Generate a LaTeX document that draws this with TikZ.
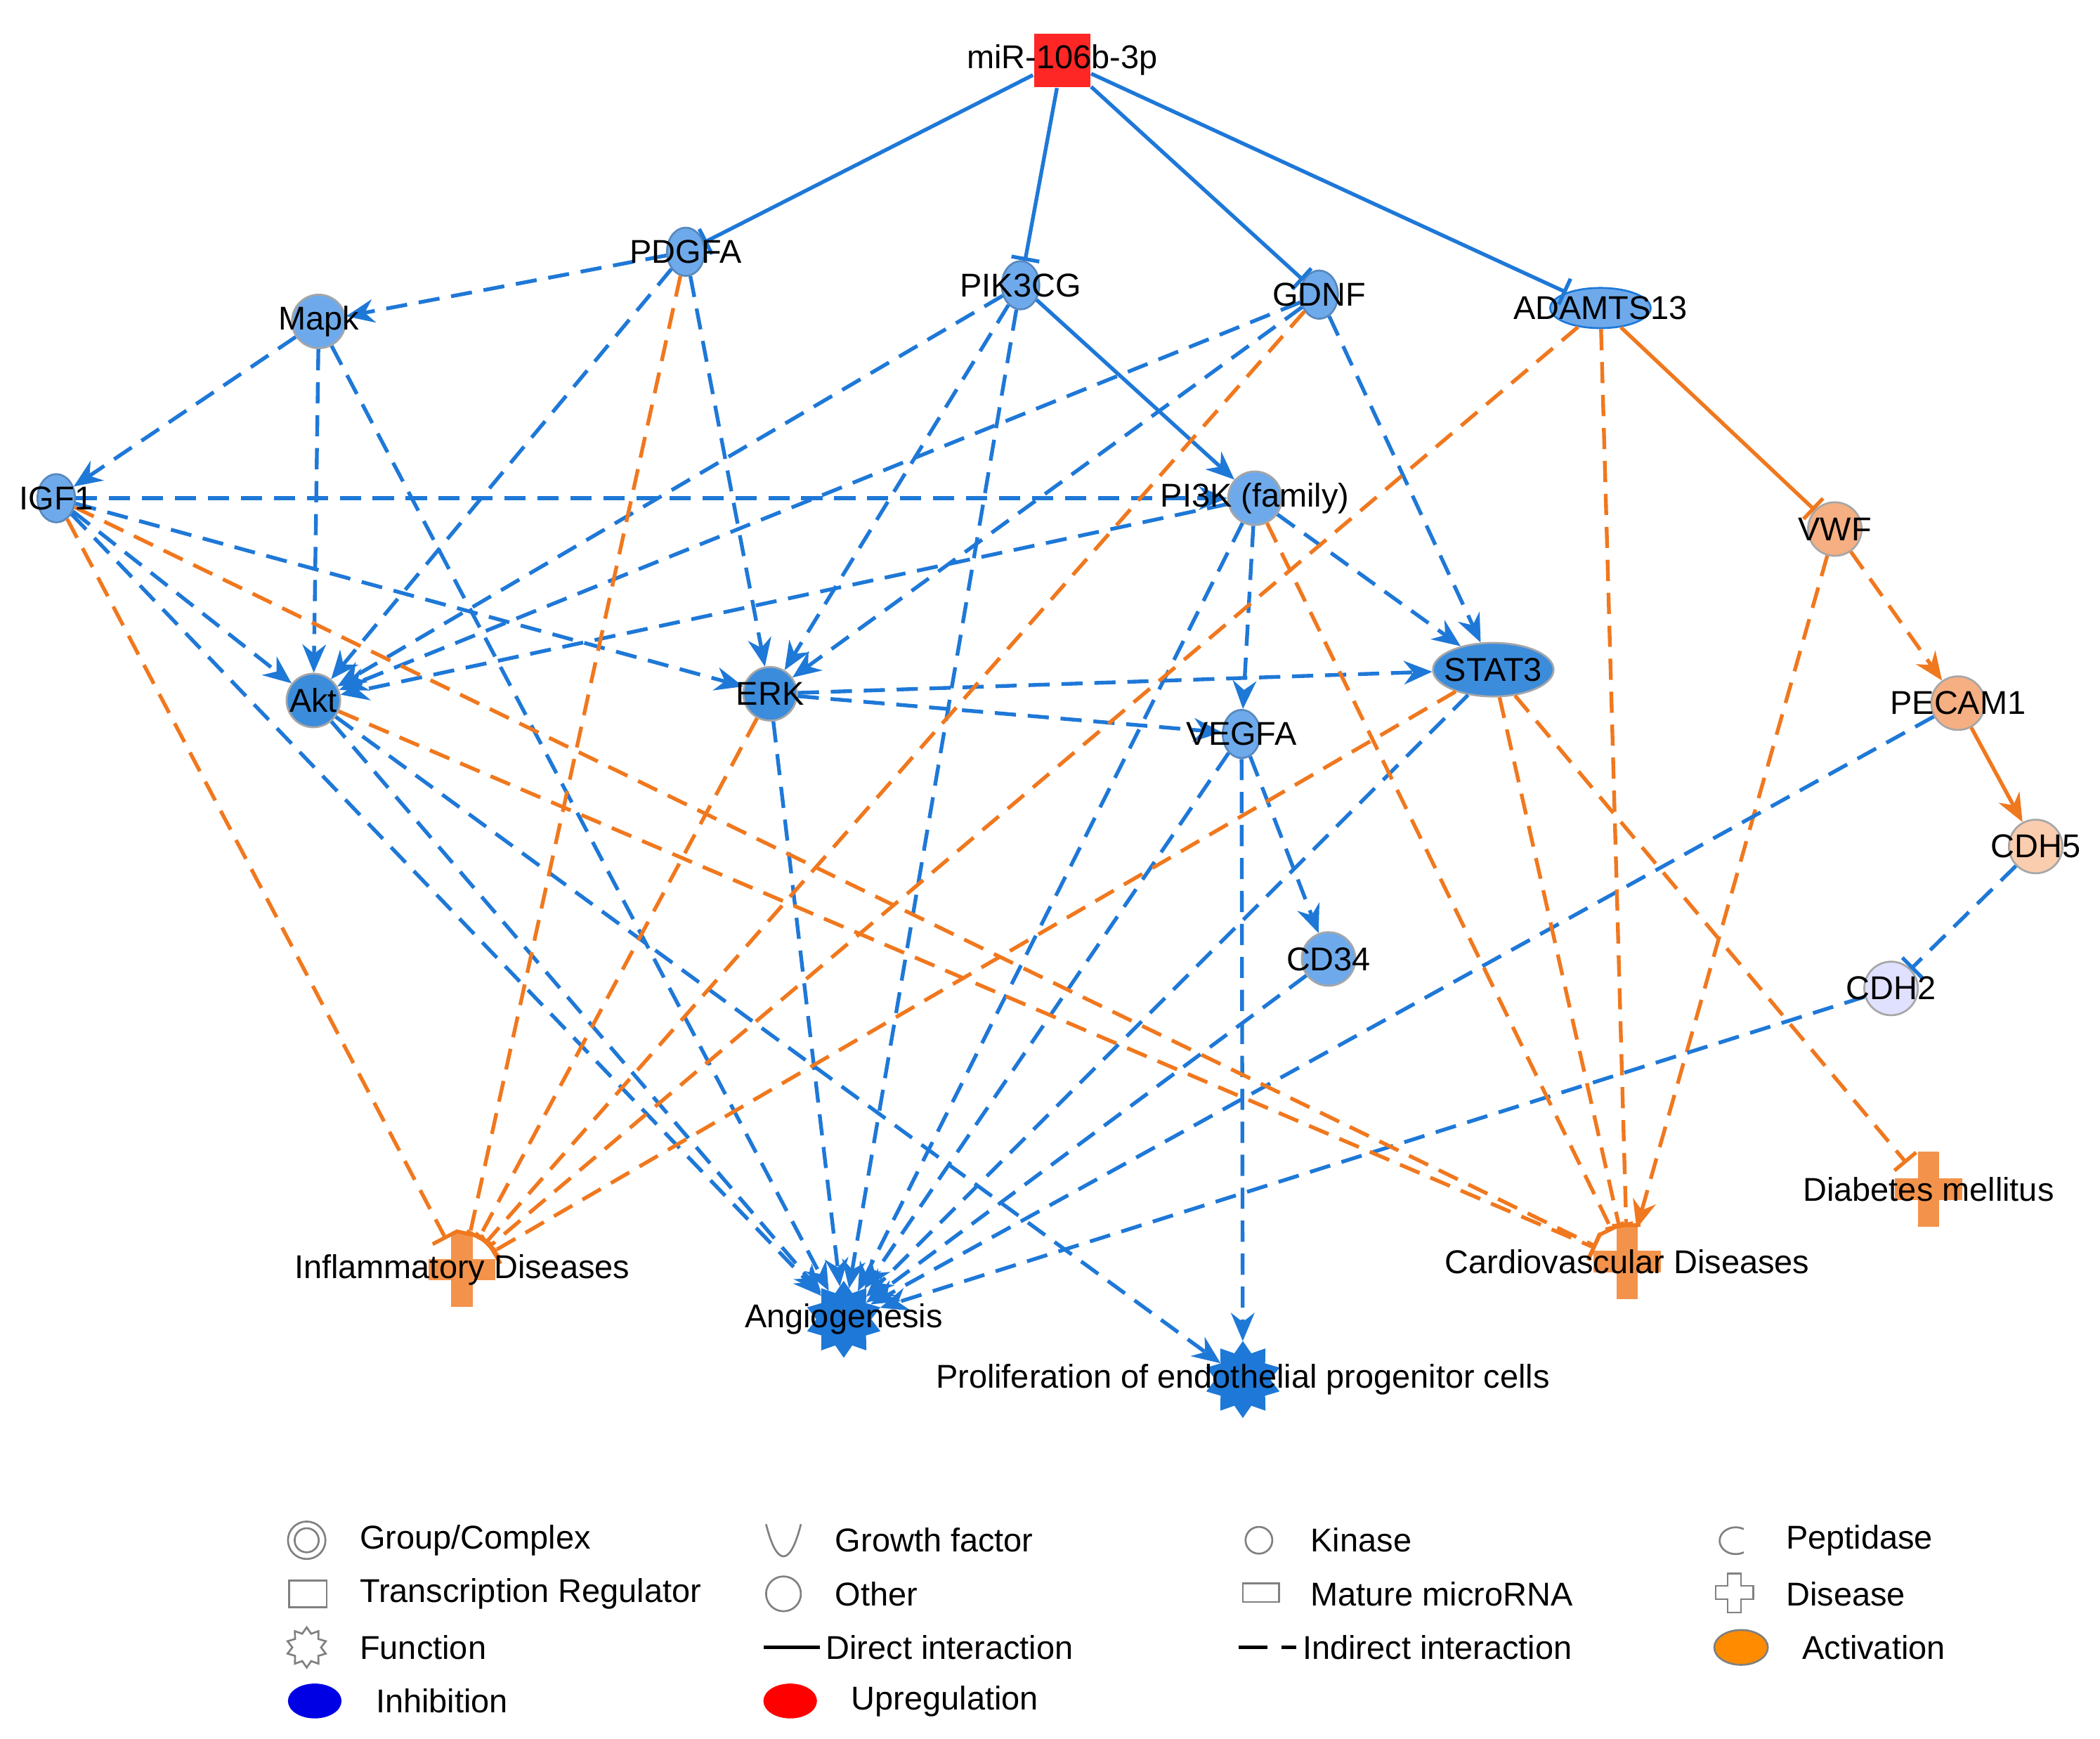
\documentclass[tikz,border=0pt]{standalone}
\usepackage{fontspec}
\setmainfont{Liberation Sans}
\usetikzlibrary{arrows.meta,shapes.geometric,shapes.misc,calc}
\definecolor{bl}{RGB}{30,120,215}
\definecolor{orr}{RGB}{240,120,30}
\definecolor{nb}{RGB}{60,140,220}
\definecolor{nl}{RGB}{110,170,235}
\definecolor{np}{RGB}{245,175,130}
\definecolor{npl}{RGB}{250,205,175}
\begin{document}
\begin{tikzpicture}[x=0.01cm,y=-0.01cm,
  font=\fontsize{7}{8.4}\selectfont,
  lw/.style={line width=0.8pt},
  dsh/.style={dash pattern=on 4.5pt off 2.5pt},
  ba/.style={lw,draw=bl,dsh,-{Stealth[length=6pt,width=5pt]}},
  bs/.style={lw,draw=bl,-{Stealth[length=6pt,width=5pt]}},
  bt/.style={lw,draw=bl,-{Bar[width=6pt]}},
  btd/.style={lw,draw=bl,dsh,-{Bar[width=6pt]}},
  oa/.style={lw,draw=orr,dsh,-{Stealth[length=6pt,width=5pt]}},
  ot/.style={lw,draw=orr,dsh,-{Bar[width=6pt]}},
  ots/.style={lw,draw=orr,-{Bar[width=6pt]}},
  oas/.style={lw,draw=orr,-{Stealth[length=6pt,width=5pt]}},
  cn/.style={circle,minimum size=0.4cm,inner sep=0pt,draw=gray!70,fill=#1},
  gf/.style={ellipse,minimum width=0.28cm,minimum height=0.36cm,inner sep=0pt,fill=nl,draw=nl!80!black},
  fn/.style={star,star points=10,star point ratio=1.4,minimum size=0.55cm,inner sep=0pt,fill=bl,draw=bl},
  ds/.style={circle,minimum size=0.5cm,inner sep=0pt},
  lab/.style={inner sep=0pt}]
\useasboundingbox (0,0) rectangle (1568,1298);
% nodes
\node[rectangle,fill=red!85,minimum width=0.42cm,minimum height=0.4cm,inner sep=0pt] (mir) at (793,45) {};
\node[gf] (pdgfa) at (512,188) {};
\node[gf] (pik) at (762,213) {};
\node[gf] (gdnf) at (985,220) {};
\node[ellipse,minimum width=0.75cm,minimum height=0.3cm,inner sep=0pt,fill=nl,draw=bl] (adam) at (1195,230) {};
\node[cn=nl] (mapk) at (238,240) {};
\node[gf] (igf) at (42,372) {};
\node[cn=nl] (pi3k) at (937,372) {};
\node[cn=np] (vwf) at (1370,395) {};
\node[cn=nb] (akt) at (234,523) {};
\node[cn=nb] (erk) at (575,518) {};
\node[ellipse,minimum width=0.9cm,minimum height=0.4cm,inner sep=0pt,fill=nb,draw=gray!70] (stat) at (1115,500) {};
\node[gf] (vegfa) at (927,548) {};
\node[cn=np] (pecam) at (1462,525) {};
\node[cn=npl] (cdh5) at (1520,632) {};
\node[cn=nl] (cd34) at (992,716) {};
\node[cn=blue!12] (cdh2) at (1412,738) {};
\node[ds] (diab) at (1440,888) {};
\node[ds] (infl) at (345,948) {};
\node[ds] (card) at (1215,942) {};
\node[fn] (ang) at (630,985) {};
\node[fn] (prol) at (928,1030) {};
\foreach \p in {diab,infl,card}{
 \fill[orr!80] ($(\p)+(-8,-28)$) rectangle ($(\p)+(8,28)$);
 \fill[orr!80] ($(\p)+(-25,-8)$) rectangle ($(\p)+(25,8)$);}
% edges
\draw[bt] (mir) -- (pdgfa);
\draw[bt] (mir) -- (pik);
\draw[bt] (mir) -- (gdnf);
\draw[bt] (mir) -- (adam);
\draw[bs] (pik) -- (pi3k);
\draw[ots] (adam) -- (vwf);
\draw[oa] (vwf) -- (pecam);
\draw[oas] (pecam) -- (cdh5);
\draw[btd] (cdh5) -- (cdh2);
\draw[oa] (vwf) -- (card);
\foreach \a/\b in {pdgfa/mapk,pdgfa/akt,pdgfa/erk,mapk/igf,mapk/akt,mapk/ang,
  pik/akt,pik/erk,pik/ang,gdnf/akt,gdnf/erk,gdnf/stat,igf/pi3k,igf/akt,igf/erk,igf/ang,
  pi3k/akt,pi3k/stat,pi3k/vegfa,pi3k/ang,akt/ang,akt/prol,erk/stat,erk/vegfa,erk/ang,
  vegfa/cd34,vegfa/ang,vegfa/prol,stat/ang,cd34/ang,pecam/ang,cdh2/ang}
  \draw[ba] (\a) -- (\b);
\foreach \a/\b in {pdgfa/infl,gdnf/infl,adam/infl,igf/infl,erk/infl,stat/infl,
  igf/card,akt/card,pi3k/card,stat/card,adam/card,stat/diab}
  \draw[ot] (\a) -- (\b);
% labels
\foreach \p/\t in {mir/miR-106b-3p,pdgfa/PDGFA,pik/PIK3CG,gdnf/GDNF,adam/ADAMTS13,mapk/Mapk,
  igf/IGF1,pi3k/PI3K (family),vwf/VWF,akt/Akt,erk/ERK,stat/STAT3,vegfa/VEGFA,pecam/PECAM1,
  cdh5/CDH5,cd34/CD34,cdh2/CDH2,diab/Diabetes mellitus,infl/Inflammatory Diseases,
  card/Cardiovascular Diseases,ang/Angiogenesis,prol/Proliferation of endothelial progenitor cells}
  \node[lab] at (\p) {\t};
% legend
\begin{scope}[every node/.style={anchor=west,inner sep=0pt}]
\draw[gray] (229,1150) circle (14); \draw[gray] (229,1150) circle (9);
\node (l1) at (268,1150) {Group/Complex};
\draw[gray] (572,1138) .. controls (580,1170) and (590,1170) .. (598,1138);
\node (l2) at (623,1150) {Growth factor};
\draw[gray] (940,1150) circle (10);
\node (l3) at (978,1150) {Kinase};
\draw[gray] (1302,1159) arc (60:300:12 and 10);
\node (l4) at (1333,1150) {Peptidase};
\draw[gray] (216,1180) rectangle (244,1200);
\node (l5) at (268,1190) {Transcription Regulator};
\draw[gray] (585,1190) circle (13);
\node (l6) at (623,1190) {Other};
\draw[gray] (928,1182) rectangle (955,1196);
\node (l7) at (978,1190) {Mature microRNA};
\draw[gray] (1281,1184) -- (1290,1184) -- (1290,1175) -- (1300,1175) -- (1300,1184) -- (1309,1184) -- (1309,1194) -- (1300,1194) -- (1300,1204) -- (1290,1204) -- (1290,1194) -- (1281,1194) -- cycle;
\node (l8) at (1333,1190) {Disease};
\node[star,star points=10,star point ratio=1.4,minimum size=0.3cm,draw=gray,anchor=center] at (229,1230) {};
\node (l9) at (268,1230) {Function};
\draw[black,line width=0.8pt] (570,1230) -- (612,1230);
\node (l10) at (616,1230) {Direct interaction};
\draw[black,line width=0.8pt,dash pattern=on 6pt off 3pt] (925,1230) -- (968,1230);
\node (l11) at (972,1230) {Indirect interaction};
\draw[fill=orange!90!yellow,draw=gray] (1300,1230) ellipse (20 and 13);
\node (l12) at (1345,1230) {Activation};
\fill[blue!90!black] (235,1270) ellipse (20 and 13);
\node (l13) at (280,1270) {Inhibition};
\fill[red] (590,1270) ellipse (20 and 13);
\node (l14) at (635,1270) {Upregulation};
\end{scope}
\end{tikzpicture}
\end{document}
